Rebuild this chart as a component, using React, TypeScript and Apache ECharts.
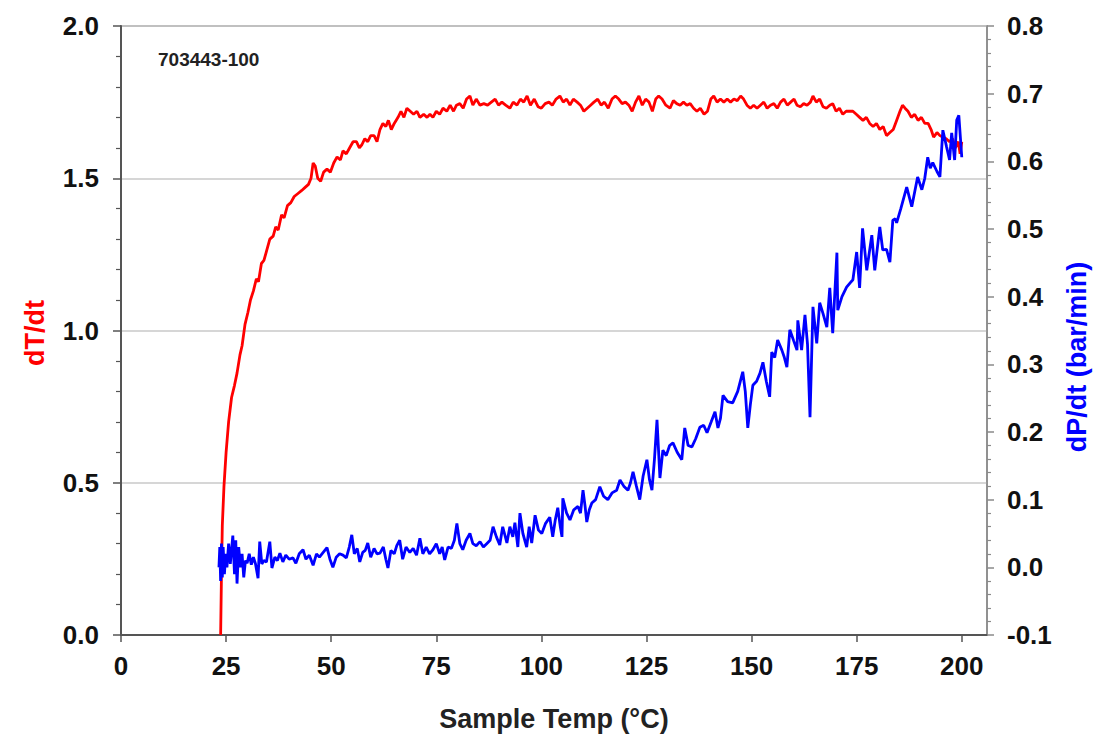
import React, { useEffect, useRef } from "react";
import * as echarts from "echarts";

const xTicks = [0, 25, 50, 75, 100, 125, 150, 175, 200];
const leftTicks = [0, 0.5, 1.0, 1.5, 2.0];
const rightTicks = [-0.1, 0, 0.1, 0.2, 0.3, 0.4, 0.5, 0.6, 0.7, 0.8];

const sampleLabel = "703443-100";

// dT/dt (left axis) vs sample temperature
const dTdt: number[][] = [
  [23.7, 0], [23.9, 0.2], [24.1, 0.36], [24.5, 0.49], [25, 0.6], [25.6, 0.7], [26.3, 0.78], [27, 0.82],
  [27.6, 0.86], [28.3, 0.92], [28.8, 0.95], [29.5, 1.02], [30.2, 1.06], [30.8, 1.1], [31.5, 1.13],
  [32.2, 1.17], [32.7, 1.16], [33.4, 1.22], [34, 1.23], [34.6, 1.26], [35.4, 1.3], [36.2, 1.31],
  [36.8, 1.34], [37.4, 1.33], [38.2, 1.38], [38.8, 1.37], [39.6, 1.41], [40.4, 1.42], [41.2, 1.44],
  [42.1, 1.45], [43, 1.46], [43.8, 1.47], [44.6, 1.48], [45.2, 1.5], [45.7, 1.55], [46.2, 1.54],
  [46.8, 1.5], [47.5, 1.49], [48.2, 1.52], [49, 1.53], [49.8, 1.52], [50.6, 1.55], [51.4, 1.57],
  [52.2, 1.56], [52.8, 1.59], [53.6, 1.58], [54.4, 1.6], [55.2, 1.62], [56, 1.62], [56.7, 1.6],
  [57.3, 1.61], [58, 1.63], [58.7, 1.62], [59.4, 1.64], [60.2, 1.64], [60.9, 1.62], [61.6, 1.66],
  [62.3, 1.68], [63, 1.67], [63.6, 1.69], [64.3, 1.66], [65, 1.68], [65.9, 1.7], [66.6, 1.72],
  [67.3, 1.7], [68, 1.73], [68.8, 1.72], [69.6, 1.71], [70.4, 1.72], [71.1, 1.7], [72, 1.71],
  [72.8, 1.7], [73.5, 1.71], [74.2, 1.7], [75, 1.72], [75.8, 1.71], [76.6, 1.73], [77.5, 1.72],
  [78.3, 1.74], [79.1, 1.72], [79.8, 1.74], [80.6, 1.745], [81.4, 1.73], [82.2, 1.76], [83, 1.77],
  [83.7, 1.74], [84.5, 1.76], [85.4, 1.74], [86.3, 1.745], [87.2, 1.74], [88.1, 1.75], [89, 1.76],
  [89.8, 1.74], [90.6, 1.75], [91.5, 1.74], [92.5, 1.73], [93.3, 1.75], [94.2, 1.74], [95, 1.76],
  [95.8, 1.75], [96.6, 1.77], [97.4, 1.74], [98.3, 1.76], [99.2, 1.735], [100, 1.73], [100.9, 1.745],
  [101.8, 1.75], [102.6, 1.74], [103.5, 1.76], [104.4, 1.77], [105.2, 1.75], [106, 1.76], [106.8, 1.74],
  [107.6, 1.76], [108.5, 1.75], [109.3, 1.74], [110.1, 1.72], [110.9, 1.73], [111.7, 1.74], [112.5, 1.75],
  [113.4, 1.76], [114.2, 1.74], [115, 1.75], [115.9, 1.73], [116.8, 1.76], [117.6, 1.77], [118.4, 1.76],
  [119.2, 1.745], [120, 1.75], [120.8, 1.74], [121.6, 1.72], [122.4, 1.75], [123.2, 1.77], [124, 1.74],
  [124.8, 1.76], [125.6, 1.75], [126.4, 1.72], [127.2, 1.76], [127.9, 1.77], [128.7, 1.76], [129.6, 1.74],
  [130.6, 1.73], [131.4, 1.755], [132.2, 1.745], [133, 1.74], [133.8, 1.75], [134.6, 1.74], [135.4, 1.745],
  [136.2, 1.73], [137, 1.72], [137.8, 1.73], [138.7, 1.71], [139.5, 1.72], [140.3, 1.76], [141, 1.77],
  [141.8, 1.75], [142.6, 1.76], [143.4, 1.75], [144.2, 1.76], [145, 1.75], [145.8, 1.76], [146.6, 1.755],
  [147.4, 1.77], [148.1, 1.76], [148.9, 1.74], [149.7, 1.73], [150.5, 1.74], [151.3, 1.73], [152.1, 1.74],
  [152.9, 1.75], [153.7, 1.73], [154.5, 1.74], [155.3, 1.745], [156.1, 1.73], [156.9, 1.75], [157.7, 1.76],
  [158.5, 1.74], [159.3, 1.75], [160.1, 1.76], [160.8, 1.74], [161.6, 1.735], [162.4, 1.745], [163.2, 1.74],
  [164, 1.75], [164.6, 1.77], [165.4, 1.75], [166.2, 1.76], [167, 1.735], [167.8, 1.73], [168.6, 1.74],
  [169.3, 1.745], [170.1, 1.72], [170.9, 1.73], [171.7, 1.71], [172.5, 1.72], [173.3, 1.72], [174.1, 1.72],
  [174.9, 1.71], [175.7, 1.7], [176.5, 1.69], [177.3, 1.7], [178.1, 1.68], [178.9, 1.67], [179.7, 1.68],
  [180.5, 1.66], [181.3, 1.67], [182.1, 1.64], [182.9, 1.65], [183.7, 1.66], [184.5, 1.69], [185.3, 1.72],
  [185.9, 1.74], [186.5, 1.73], [187.2, 1.72], [188, 1.7], [188.8, 1.71], [189.6, 1.69], [190.4, 1.7],
  [191.2, 1.68], [192, 1.68], [192.7, 1.66], [193.3, 1.635], [194.1, 1.65], [194.8, 1.64], [195.5, 1.635],
  [196.3, 1.63], [197.1, 1.62], [197.8, 1.63], [198.5, 1.6], [199.2, 1.62], [199.6, 1.58], [200, 1.62],
];

// dP/dt (right axis) vs sample temperature
const dPdt: number[][] = [
  [23.3, 0.0], [23.5, 0.03], [23.7, -0.02], [23.9, 0.035], [24.1, -0.015], [24.3, 0.03], [24.6, -0.01],
  [24.9, 0.02], [25.2, 0.0], [25.6, 0.035], [26, 0.005], [26.6, 0.047], [27, -0.01], [27.3, 0.04],
  [27.6, -0.024], [28, 0.03], [28.4, 0.0], [28.8, 0.02], [29.2, -0.015], [29.6, 0.01], [30, 0.006],
  [30.5, 0.02], [31, 0.004], [31.5, 0.015], [32, 0.005], [32.6, -0.016], [33, 0.038], [33.5, 0.005],
  [34, 0.01], [34.6, 0.008], [35.4, 0.038], [35.9, -0.001], [36.6, 0.015], [37.2, 0.01], [37.8, 0.021],
  [38.5, 0.008], [39.2, 0.018], [40, 0.012], [40.9, 0.014], [41.6, 0.006], [42.4, 0.02], [43.3, 0.026],
  [44, 0.012], [44.8, 0.018], [45.7, 0.003], [46.5, 0.02], [47.2, 0.015], [48.1, 0.022], [49, 0.029],
  [49.7, 0.012], [50.4, 0.0], [51.2, 0.015], [52, 0.02], [52.8, 0.018], [53.6, 0.014], [54.3, 0.03],
  [54.9, 0.048], [55.5, 0.02], [56.2, 0.028], [56.8, 0.008], [57.5, 0.022], [58.1, 0.025], [58.7, 0.036],
  [59.4, 0.015], [60.2, 0.028], [60.9, 0.02], [61.6, 0.021], [62.4, 0.03], [63, 0.012], [63.5, -0.001],
  [64.2, 0.025], [65, 0.02], [65.6, 0.032], [66.3, 0.04], [67, 0.012], [67.8, 0.03], [68.7, 0.022],
  [69.5, 0.028], [70.3, 0.018], [71.1, 0.043], [71.8, 0.02], [72.6, 0.03], [73.4, 0.02], [74.2, 0.026],
  [75, 0.035], [75.8, 0.02], [76.4, 0.03], [77, 0.011], [77.8, 0.03], [78.6, 0.028], [79.3, 0.04],
  [79.9, 0.065], [80.6, 0.035], [81.3, 0.026], [82.1, 0.04], [83, 0.05], [83.7, 0.035], [84.5, 0.032],
  [85.4, 0.038], [86.2, 0.03], [87, 0.035], [87.8, 0.04], [88.5, 0.06], [89.3, 0.045], [90.1, 0.033],
  [90.8, 0.06], [91.8, 0.036], [92.5, 0.06], [93.2, 0.045], [93.7, 0.066], [94.4, 0.03], [94.9, 0.08],
  [95.6, 0.05], [96.5, 0.03], [97.1, 0.06], [97.7, 0.036], [98.5, 0.077], [99.3, 0.055], [100.1, 0.05],
  [101, 0.065], [102, 0.074], [102.7, 0.045], [103.3, 0.07], [103.9, 0.088], [104.5, 0.06], [104.9, 0.045],
  [105.1, 0.102], [106, 0.08], [106.8, 0.07], [107.7, 0.085], [108.7, 0.09], [109.3, 0.08], [109.9, 0.114],
  [110.4, 0.09], [110.8, 0.067], [111.4, 0.085], [112, 0.095], [112.9, 0.1], [113.9, 0.119], [114.8, 0.105],
  [115.8, 0.1], [116.8, 0.11], [117.9, 0.114], [118.7, 0.129], [119.6, 0.12], [120.6, 0.114], [121.2, 0.125],
  [121.8, 0.141], [122.6, 0.12], [123.4, 0.1], [124.2, 0.135], [125.1, 0.159], [125.7, 0.13], [126.3, 0.114],
  [126.9, 0.16], [127.5, 0.218], [128.2, 0.132], [128.9, 0.173], [129.7, 0.165], [130.5, 0.18], [131.3, 0.184],
  [132.3, 0.17], [133.4, 0.159], [134.1, 0.206], [134.9, 0.18], [135.8, 0.178], [136.7, 0.19], [137.7, 0.207],
  [138.6, 0.21], [139.4, 0.199], [140.4, 0.215], [141.3, 0.23], [142, 0.206], [142.6, 0.22], [143.2, 0.254],
  [144.3, 0.245], [145.5, 0.243], [146.7, 0.26], [147.9, 0.289], [148.5, 0.26], [149.1, 0.206], [149.7, 0.24],
  [150.3, 0.269], [151.2, 0.275], [152, 0.287], [152.7, 0.303], [153.5, 0.275], [154.3, 0.252], [154.8, 0.318],
  [155.5, 0.31], [156.2, 0.336], [157.2, 0.321], [157.8, 0.31], [158.4, 0.296], [159.1, 0.351], [160, 0.335],
  [160.8, 0.321], [161, 0.365], [161.9, 0.321], [162.7, 0.373], [163.3, 0.33], [163.9, 0.222], [164.6, 0.385],
  [165.5, 0.331], [166.2, 0.391], [167, 0.375], [167.9, 0.355], [168.6, 0.413], [169.3, 0.346], [170.3, 0.465],
  [170.5, 0.38], [171.5, 0.4], [172.6, 0.414], [173.4, 0.42], [174.1, 0.425], [175, 0.466], [175.7, 0.413],
  [176.4, 0.501], [177.4, 0.439], [178.6, 0.491], [179.3, 0.439], [180.5, 0.503], [181.2, 0.469], [182.1, 0.47],
  [182.9, 0.451], [183.6, 0.513], [184.2, 0.515], [184.5, 0.509], [185.5, 0.53], [186.9, 0.562], [188.1, 0.533],
  [189.5, 0.577], [190.5, 0.558], [191.2, 0.575], [191.9, 0.606], [192.5, 0.59], [193.1, 0.598], [194.1, 0.585],
  [194.8, 0.577], [195.5, 0.646], [196.4, 0.621], [197.1, 0.602], [197.6, 0.642], [198.3, 0.602], [198.8, 0.661],
  [199.3, 0.668], [200, 0.606],
];

const FONT = "'Liberation Sans', Arial, Helvetica, sans-serif";
const AXIS_COLOR = "#555555";

export default function App() {
  const ref = useRef<HTMLDivElement>(null);

  useEffect(() => {
    if (!ref.current) return;
    const chart = echarts.init(ref.current, undefined, { renderer: "svg" });
    const labelStyle = {
      color: "#111",
      fontFamily: FONT,
      fontWeight: "bold" as const,
      fontSize: 26,
    };
    chart.setOption({
      animation: false,
      backgroundColor: "#ffffff",
      grid: {
        left: 121,
        right: 106,
        top: 26,
        bottom: 99,
        show: true,
        borderColor: "#8a8a8a",
        borderWidth: 1.5,
        containLabel: false,
      },
      xAxis: {
        type: "value",
        min: 0,
        max: 206,
        interval: 25,
        axisLine: { show: true, lineStyle: { color: AXIS_COLOR, width: 2 } },
        axisTick: { show: true, inside: false, length: 7, lineStyle: { color: AXIS_COLOR, width: 1.5 } },
        splitLine: { show: false },
        axisLabel: {
          ...labelStyle,
          margin: 18,
          showMaxLabel: false,
          formatter: (v: number) => (xTicks.includes(v) ? String(v) : ""),
        },
      },
      yAxis: [
        {
          type: "value",
          min: leftTicks[0],
          max: leftTicks[leftTicks.length - 1],
          interval: 0.5,
          position: "left",
          axisLine: { show: true, lineStyle: { color: AXIS_COLOR, width: 2 } },
          axisTick: { show: true, inside: false, length: 8, lineStyle: { color: AXIS_COLOR, width: 1.5 } },
          minorTick: { show: true, splitNumber: 5, length: 5, lineStyle: { color: AXIS_COLOR, width: 1.2 } },
          splitLine: { show: true, lineStyle: { color: "#c8c8c8", width: 1.5 } },
          axisLabel: { ...labelStyle, margin: 22, formatter: (v: number) => v.toFixed(1) },
        },
        {
          type: "value",
          min: rightTicks[0],
          max: rightTicks[rightTicks.length - 1],
          interval: 0.1,
          position: "right",
          axisLine: { show: true, lineStyle: { color: "#8a8a8a", width: 1.5 } },
          axisTick: { show: true, inside: false, length: 7, lineStyle: { color: "#8a8a8a", width: 1.5 } },
          minorTick: { show: true, splitNumber: 5, length: 4, lineStyle: { color: "#8a8a8a", width: 1.2 } },
          splitLine: { show: false },
          axisLabel: { ...labelStyle, margin: 20, formatter: (v: number) => v.toFixed(1) },
        },
      ],
      series: [
        {
          type: "line",
          name: "dT/dt",
          yAxisIndex: 0,
          data: dTdt,
          showSymbol: false,
          symbol: "none",
          lineStyle: { color: "#ff0000", width: 2.8 },
          z: 3,
        },
        {
          type: "line",
          name: "dP/dt",
          yAxisIndex: 1,
          data: dPdt,
          showSymbol: false,
          symbol: "none",
          lineStyle: { color: "#0000ff", width: 2.8 },
          z: 4,
        },
      ],
      graphic: [
        {
          type: "text",
          left: 158,
          top: 50,
          style: { text: sampleLabel, fill: "#222", font: `bold 19px ${FONT}` },
        },
        {
          type: "text",
          x: 35,
          y: 333,
          rotation: Math.PI / 2,
          style: {
            text: "dT/dt",
            fill: "#ff0000",
            font: `bold 27px ${FONT}`,
            align: "center",
            verticalAlign: "middle",
          },
        },
        {
          type: "text",
          x: 1077,
          y: 357,
          rotation: Math.PI / 2,
          style: {
            text: "dP/dt (bar/min)",
            fill: "#0000ff",
            font: `bold 27px ${FONT}`,
            align: "center",
            verticalAlign: "middle",
          },
        },
        {
          type: "text",
          x: 554,
          y: 719,
          style: {
            text: "Sample Temp (°C)",
            fill: "#222",
            font: `bold 27px ${FONT}`,
            align: "center",
            verticalAlign: "middle",
          },
        },
      ],
    });
    return () => chart.dispose();
  }, []);

  return (
    <div
      ref={ref}
      style={{ position: "absolute", left: 0, top: 0, width: 1093, height: 734, background: "#fff" }}
    />
  );
}
